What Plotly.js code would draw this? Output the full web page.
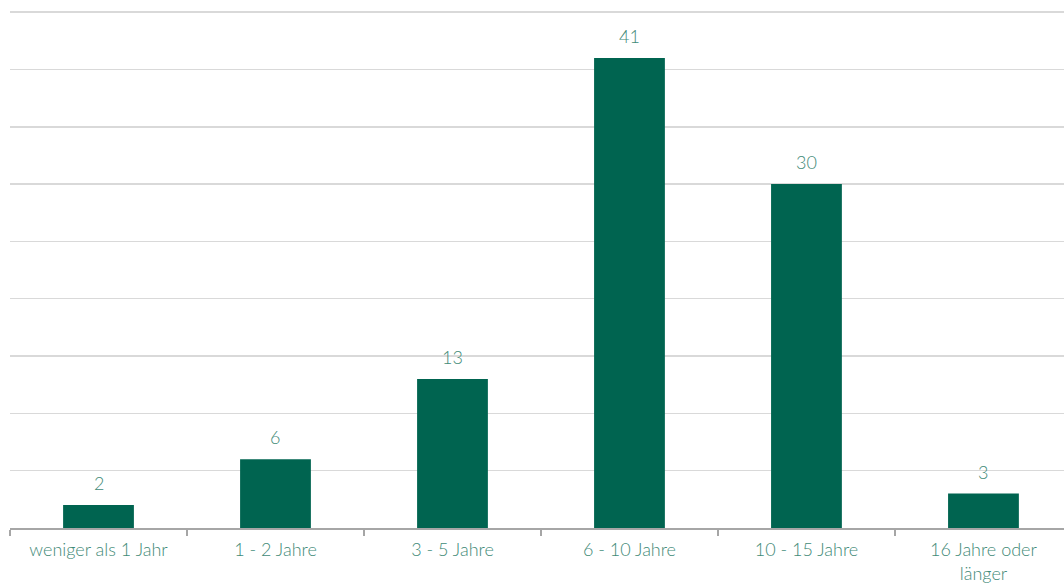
<!DOCTYPE html>
<html>
<head>
<meta charset="utf-8">
<script src="https://cdn.plot.ly/plotly-3.0.1.min.js"></script>
<style>html,body{margin:0;padding:0;background:#fff;}#chart{width:1064px;height:583px;}</style>
</head>
<body>
<div id="chart"></div>
<script>
const categories = ["weniger als 1 Jahr", "1 - 2 Jahre", "3 - 5 Jahre", "6 - 10 Jahre", "10 - 15 Jahre", "16 Jahre oder<br>länger"];
const values = [2, 6, 13, 41, 30, 3];

const textColor = "#3f8a77";
const annotations = categories.map((c, i) => ({
  x: c, y: values[i], text: String(values[i]),
  xref: "x", yref: "y", yanchor: "bottom", showarrow: false, yshift: 9,
  font: {family: "Lato, sans-serif", size: 18, weight: 300, color: textColor}
}));

Plotly.newPlot("chart", [{
  type: "bar",
  x: categories,
  y: values,
  width: 0.4,
  marker: {color: "#006450"},
  hoverinfo: "none"
}], {
  width: 1064, height: 583,
  margin: {l: 10, r: 0, t: 11, b: 55},
  paper_bgcolor: "#fff", plot_bgcolor: "#fff",
  showlegend: false,
  annotations: annotations,
  xaxis: {
    type: "category",
    range: [-0.5, 5.455],
    tickson: "boundaries",
    ticks: "outside", ticklen: 6, tickcolor: "#a6a6a6", tickwidth: 1.5,
    showline: true, linecolor: "#a6a6a6", linewidth: 1.5,
    showgrid: false,
    ticklabelstandoff: 5,
    tickfont: {family: "Lato, sans-serif", size: 18, weight: 300, color: textColor},
    fixedrange: true
  },
  yaxis: {
    range: [0, 45.1], dtick: 5,
    showticklabels: false,
    showgrid: true, gridcolor: "#d9d9d9", gridwidth: 1.5,
    zeroline: false, showline: false,
    fixedrange: true
  }
}, {displayModeBar: false, staticPlot: true});
</script>
</body>
</html>
